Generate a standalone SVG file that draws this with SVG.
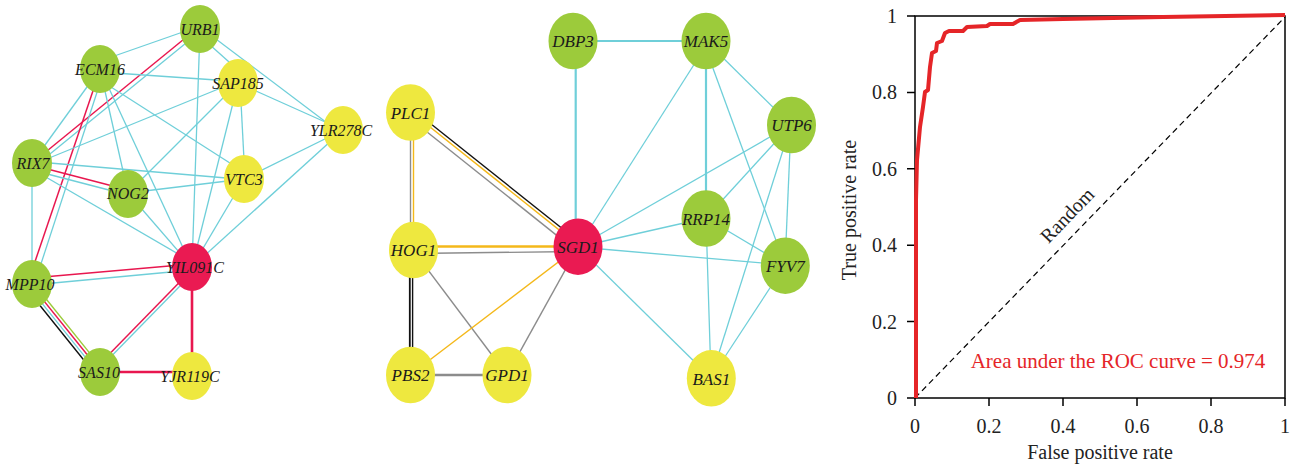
<svg xmlns="http://www.w3.org/2000/svg" width="1295" height="467" viewBox="0 0 1295 467">
<style>
.c{stroke:#6fcfd9;stroke-width:1.3;fill:none}
.ct{stroke:#6fcfd9;stroke-width:2.2;fill:none}
.r{stroke:#e8174f;stroke-width:1.5;fill:none}
.rt{stroke:#e8174f;stroke-width:2.6;fill:none}
.k{stroke:#111;stroke-width:1.4;fill:none}
.kt{stroke:#111;stroke-width:1.8;fill:none}
.g{stroke:#9ccb3b;stroke-width:1.4;fill:none}
.o{stroke:#f4b81a;stroke-width:1.4;fill:none}
.ot{stroke:#f4b81a;stroke-width:2.6;fill:none}
.gr{stroke:#8c8c8c;stroke-width:1.4;fill:none}
.grt{stroke:#8c8c8c;stroke-width:2.4;fill:none}
.ng{fill:#9ccb3b}
.ny{fill:#eee83f}
.nr{fill:#ea1a52}
.lb{font-family:"Liberation Serif",serif;font-style:italic;font-size:16px;text-anchor:middle;fill:#1a1a1a}
.lm{font-family:"Liberation Serif",serif;font-style:italic;font-size:17px;text-anchor:middle;fill:#1a1a1a}
.ax{font-family:"Liberation Serif",serif;font-size:20px;fill:#222}
.at{font-family:"Liberation Serif",serif;font-size:20px;fill:#222;text-anchor:middle}
</style>
<rect width="1295" height="467" fill="#fff"/>
<g id="connectors">
<line class="c" x1="100" y1="61" x2="200" y2="26"/>
<line class="c" x1="200" y1="36" x2="238" y2="70"/>
<line class="c" x1="200" y1="27" x2="343" y2="135"/>
<line class="c" x1="200" y1="29" x2="192" y2="267"/>
<line class="r" x1="200" y1="26" x2="31" y2="164"/>
<line class="c" x1="202" y1="30" x2="34" y2="167"/>
<line class="c" x1="100" y1="72" x2="238" y2="81.5"/>
<line class="c" x1="100" y1="69" x2="32" y2="163"/>
<line class="r" x1="100.4" y1="69" x2="27.4" y2="284"/>
<line class="c" x1="104.6" y1="69" x2="34.4" y2="284"/>
<line class="c" x1="100" y1="69" x2="128" y2="193"/>
<line class="c" x1="100" y1="69" x2="192" y2="267"/>
<line class="c" x1="100" y1="80" x2="244" y2="172"/>
<line class="c" x1="32" y1="165" x2="238" y2="81"/>
<line class="c" x1="32" y1="161.5" x2="244" y2="179.5"/>
<line class="r" x1="32" y1="165" x2="128" y2="190"/>
<line class="c" x1="32" y1="170" x2="128" y2="195"/>
<line class="c" x1="32" y1="169" x2="192" y2="262"/>
<line class="c" x1="32" y1="163" x2="32" y2="284"/>
<line class="c" x1="238" y1="83" x2="343" y2="130"/>
<line class="c" x1="240" y1="83" x2="245" y2="179"/>
<line class="c" x1="238" y1="83" x2="128" y2="193"/>
<line class="c" x1="238" y1="83" x2="192" y2="267"/>
<line class="c" x1="244" y1="179" x2="343" y2="130"/>
<line class="c" x1="244" y1="179" x2="128" y2="193"/>
<line class="c" x1="244" y1="179" x2="192" y2="267"/>
<line class="c" x1="343" y1="130" x2="192" y2="267"/>
<line class="c" x1="128" y1="193" x2="192" y2="267"/>
<line class="r" x1="32" y1="278" x2="192" y2="264"/>
<line class="c" x1="32" y1="285" x2="192" y2="270"/>
<line class="k" x1="24.1" y1="285.8" x2="94.8" y2="373.7"/>
<line class="c" x1="26.4" y1="283.9" x2="97.1" y2="371.8"/>
<line class="r" x1="28.8" y1="282.1" x2="99.5" y2="370"/>
<line class="g" x1="31.1" y1="280.2" x2="101.8" y2="368.1"/>
<line class="r" x1="95.8" y1="367.9" x2="190.7" y2="270.7"/>
<line class="c" x1="97.9" y1="370" x2="192.9" y2="272.8"/>
<line class="rt" x1="100" y1="372" x2="192" y2="372"/>
<line class="rt" x1="192" y1="267" x2="192" y2="376"/>
<line class="ct" x1="573" y1="41" x2="706" y2="41"/>
<line class="ct" x1="575.7" y1="41" x2="575.7" y2="247"/>
<line class="ct" x1="706" y1="41" x2="706" y2="218"/>
<line class="c" x1="709" y1="41" x2="578" y2="247"/>
<line class="c" x1="706" y1="41" x2="791" y2="125"/>
<line class="c" x1="703" y1="41" x2="785" y2="265"/>
<line class="c" x1="791" y1="125" x2="578" y2="247"/>
<line class="c" x1="791" y1="125" x2="706" y2="218"/>
<line class="c" x1="791" y1="125" x2="785" y2="265"/>
<line class="c" x1="791" y1="125" x2="711" y2="378"/>
<line class="c" x1="706" y1="218" x2="578" y2="247"/>
<line class="c" x1="706" y1="218" x2="785" y2="265"/>
<line class="c" x1="706" y1="218" x2="711" y2="378"/>
<line class="c" x1="578" y1="247" x2="785" y2="265"/>
<line class="c" x1="578" y1="247" x2="711" y2="378"/>
<line class="c" x1="785" y1="265" x2="711" y2="378"/>
<line class="gr" x1="410.5" y1="113" x2="410.5" y2="250"/>
<line class="o" x1="413.5" y1="113" x2="413.5" y2="250"/>
<line class="k" x1="412.5" y1="109.2" x2="578.2" y2="241.3"/>
<line class="o" x1="410.6" y1="111.5" x2="576.3" y2="243.6"/>
<line class="gr" x1="407" y1="116" x2="572.7" y2="248.1"/>
<line class="ot" x1="413" y1="246.5" x2="578" y2="246.5"/>
<line class="gr" x1="413" y1="253.5" x2="578" y2="251.5"/>
<line class="kt" x1="409.8" y1="250" x2="409.8" y2="375"/>
<line class="k" x1="412.6" y1="250" x2="412.6" y2="375"/>
<line class="gr" x1="413" y1="250" x2="507" y2="375"/>
<line class="o" x1="410" y1="375" x2="578" y2="247"/>
<line class="grt" x1="410" y1="375" x2="507" y2="375"/>
<line class="gr" x1="507" y1="375" x2="578" y2="247"/>
</g>
<g id="n-URB1"><ellipse class="ng" cx="200" cy="29" rx="20" ry="24"/><text class="lb" x="200" y="34.5">URB1</text></g>
<g id="n-ECM16"><ellipse class="ng" cx="100" cy="69" rx="20" ry="24"/><text class="lb" x="100" y="74.5">ECM16</text></g>
<g id="n-SAP185"><ellipse class="ny" cx="238" cy="83" rx="20" ry="24"/><text class="lb" x="238" y="88.5">SAP185</text></g>
<g id="n-YLR278C"><ellipse class="ny" cx="343" cy="130" rx="20" ry="24"/><text class="lb" x="341" y="135.5">YLR278C</text></g>
<g id="n-RIX7"><ellipse class="ng" cx="32" cy="163" rx="20" ry="24"/><text class="lb" x="33" y="168.5">RIX7</text></g>
<g id="n-VTC3"><ellipse class="ny" cx="244" cy="179" rx="20" ry="24"/><text class="lb" x="244" y="184.5">VTC3</text></g>
<g id="n-NOG2"><ellipse class="ng" cx="128" cy="194" rx="20" ry="24"/><text class="lb" x="128" y="198.5">NOG2</text></g>
<g id="n-YIL091C"><ellipse class="nr" cx="192" cy="267" rx="20" ry="24"/><text class="lb" x="195" y="272.5">YIL091C</text></g>
<g id="n-MPP10"><ellipse class="ng" cx="32" cy="284" rx="20" ry="24"/><text class="lb" x="30" y="289.5">MPP10</text></g>
<g id="n-SAS10"><ellipse class="ng" cx="100" cy="372" rx="20" ry="24"/><text class="lb" x="99" y="377.5">SAS10</text></g>
<g id="n-YJR119C"><ellipse class="ny" cx="192" cy="376" rx="20" ry="24"/><text class="lb" x="190" y="381.5">YJR119C</text></g>
<g id="n-DBP3"><ellipse class="ng" cx="573" cy="41" rx="24.5" ry="28.3"/><text class="lm" x="573" y="47">DBP3</text></g>
<g id="n-MAK5"><ellipse class="ng" cx="706" cy="41" rx="24.5" ry="28.3"/><text class="lm" x="706" y="47">MAK5</text></g>
<g id="n-PLC1"><ellipse class="ny" cx="410.5" cy="112.5" rx="24.5" ry="28.3"/><text class="lm" x="410.5" y="118.5">PLC1</text></g>
<g id="n-UTP6"><ellipse class="ng" cx="791.5" cy="125" rx="24.5" ry="28.3"/><text class="lm" x="791.5" y="131">UTP6</text></g>
<g id="n-RRP14"><ellipse class="ng" cx="706" cy="218.5" rx="24.5" ry="28.3"/><text class="lm" x="706" y="224.5">RRP14</text></g>
<g id="n-HOG1"><ellipse class="ny" cx="413.5" cy="250" rx="24.5" ry="28.3"/><text class="lm" x="413.5" y="256">HOG1</text></g>
<g id="n-SGD1"><ellipse class="nr" cx="578" cy="246.7" rx="24.5" ry="28.3"/><text class="lm" x="578" y="252.5">SGD1</text></g>
<g id="n-FYV7"><ellipse class="ng" cx="785.3" cy="265.7" rx="24.5" ry="28.3"/><text class="lm" x="785.3" y="271.5">FYV7</text></g>
<g id="n-PBS2"><ellipse class="ny" cx="410.5" cy="375" rx="24.5" ry="28.3"/><text class="lm" x="410.5" y="381">PBS2</text></g>
<g id="n-GPD1"><ellipse class="ny" cx="507" cy="375" rx="24.5" ry="28.3"/><text class="lm" x="507" y="381">GPD1</text></g>
<g id="n-BAS1"><ellipse class="ny" cx="711.3" cy="378.3" rx="24.5" ry="28.3"/><text class="lm" x="711.3" y="384.5">BAS1</text></g>
<g id="roc">
<rect x="915" y="16" width="370" height="382" fill="none" stroke="#000" stroke-width="1.5"/>
<path d="M907 398H915M907 321.6H915M907 245.2H915M907 168.8H915M907 92.4H915M907 16H915M915 398V406M989 398V406M1063 398V406M1137 398V406M1211 398V406M1285 398V406" stroke="#000" stroke-width="1.5" fill="none"/>
<g class="ax" text-anchor="end">
<text x="897" y="405">0</text>
<text x="897" y="328.6">0.2</text>
<text x="897" y="252.2">0.4</text>
<text x="897" y="175.8">0.6</text>
<text x="897" y="99.4">0.8</text>
<text x="897" y="23">1</text>
</g>
<g class="ax" text-anchor="middle">
<text x="915" y="433">0</text>
<text x="989" y="433">0.2</text>
<text x="1063" y="433">0.4</text>
<text x="1137" y="433">0.6</text>
<text x="1211" y="433">0.8</text>
<text x="1285" y="433">1</text>
</g>
<text class="at" x="1100" y="459">False positive rate</text>
<text class="at" transform="translate(856,210) rotate(-90)">True positive rate</text>
<line x1="915" y1="398" x2="1285" y2="17" stroke="#000" stroke-width="1.2" stroke-dasharray="6,4"/>
<text class="at" transform="translate(1067,215) rotate(-46)" dy="7">Random</text>
<polyline fill="none" stroke="#e52528" stroke-width="4" stroke-linejoin="round" points="916,398 916,200 917,160 920,127 923,107 925,92 928,90 930,67 932,53 936,51 937,43 942,41 945,33 949,31 963,31 967,27 987,26 990,24 1013,24 1020,20 1063,19 1163,17 1285,15"/>
<text x="1118" y="368" font-family="Liberation Serif, serif" font-size="21" fill="#e52528" text-anchor="middle">Area under the ROC curve = 0.974</text>
</g>
</svg>
